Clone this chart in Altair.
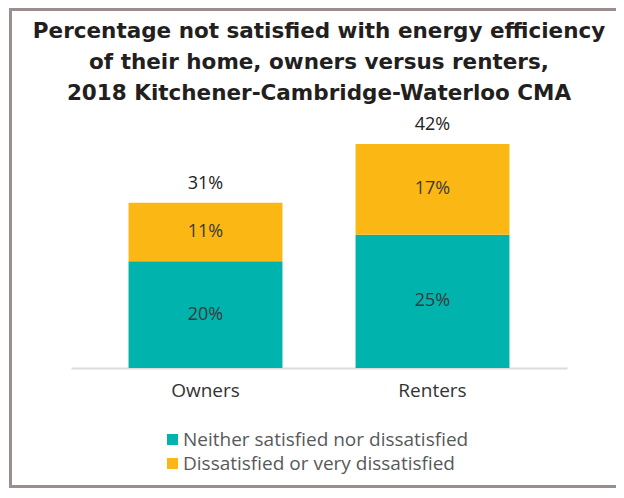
import altair as alt
import pandas as pd

groups = ["Owners", "Renters"]
categories = ["Neither satisfied nor dissatisfied", "Dissatisfied or very dissatisfied"]
neither = [20, 25]
dissatisfied = [11, 17]
colors = ["#00B3AD", "#FBB714"]

rows = []
for i, g in enumerate(groups):
    rows.append({"group": g, "category": categories[0], "value": neither[i], "order": 0})
    rows.append({"group": g, "category": categories[1], "value": dissatisfied[i], "order": 1})
df = pd.DataFrame(rows)

FONT = "Open Sans"

x_enc = alt.X(
    "group:N",
    sort=groups,
    title=None,
    scale=alt.Scale(paddingInner=0.322, paddingOuter=0.2535),
    axis=alt.Axis(
        labelAngle=0,
        ticks=False,
        domainColor="#dcdcdc",
        domainWidth=2,
        labelFontSize=19,
        labelFont=FONT,
        labelColor="#333333",
        labelPadding=13,
        grid=False,
    ),
)
y_scale = alt.Scale(domain=[0, 45])

base = alt.Chart(df)

bars = base.mark_bar().encode(
    x=x_enc,
    y=alt.Y("value:Q", stack="zero", scale=y_scale, axis=None),
    color=alt.Color(
        "category:N",
        scale=alt.Scale(domain=categories, range=colors),
        legend=alt.Legend(
            title=None,
            orient="none",
            legendX=92,
            legendY=302,
            direction="vertical",
            symbolType="square",
            symbolSize=121,
            symbolStrokeWidth=0,
            labelFontSize=19,
            labelFont=FONT,
            labelColor="#58595B",
            labelOffset=1,
            rowPadding=4,
            padding=0,
            labelLimit=400,
        ),
    ),
    order=alt.Order("order:Q"),
)

seg_labels = base.transform_stack(
    stack="value", groupby=["group"], as_=["v1", "v2"], sort=[alt.SortField("order")]
).transform_calculate(
    mid="(datum.v1 + datum.v2) / 2", label="datum.value + '%'"
).mark_text(fontSize=18, font=FONT, color="#3a3a3a", baseline="middle").encode(
    x=alt.X("group:N", sort=groups),
    y=alt.Y("mid:Q", scale=y_scale),
    text="label:N",
)

totals = base.transform_aggregate(
    total="sum(value)", groupby=["group"]
).transform_calculate(
    label="datum.total + '%'"
).mark_text(fontSize=18, font=FONT, color="#222222", baseline="middle", dy=-19).encode(
    x=alt.X("group:N", sort=groups),
    y=alt.Y("total:Q", scale=y_scale),
    text="label:N",
)

frame = alt.Chart(alt.Data(values=[{"f": 1}])).mark_rect(
    filled=False, stroke="#9A8F8C", strokeWidth=3
).encode(
    x=alt.value(-60.5),
    x2=alt.value(700),
    y=alt.value(-118.5),
    y2=alt.value(358.5),
)

chart = alt.layer(frame, bars, seg_labels, totals).properties(
    width=496,
    height=240,
    padding={"left": 63, "top": 120, "right": 49, "bottom": 120},
    autosize=alt.AutoSizeParams(type="none"),
    title=alt.Title(
        ["Percentage not satisfied with energy efficiency",
         "of their home, owners versus renters,",
         "2018 Kitchener-Cambridge-Waterloo CMA"],
        fontSize=21.5,
        font="DejaVu Sans",
        fontWeight="bold",
        color="#231F20",
        lineHeight=31,
        anchor="middle",
        frame="group",
        offset=-96,
    ),
).configure(background="white").configure_view(stroke="transparent", strokeWidth=0)

chart.save("out.html", embed_options={"renderer": "svg", "actions": False})
